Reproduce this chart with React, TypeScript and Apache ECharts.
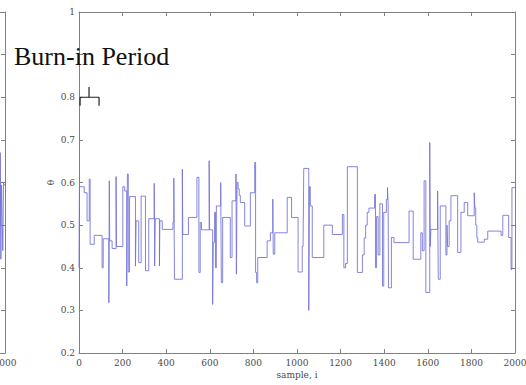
import React, { useEffect, useRef } from "react";
import * as echarts from "echarts";

// MCMC trace: sample index where the chain moves, and the value it takes
const sampleIdx = [
  0, 2, 24, 37, 47, 51, 70, 106, 111, 137, 139, 141, 152, 170, 172, 201, 210, 219, 222, 226,
  232, 259, 262, 274, 285, 305, 320, 345, 347, 350, 369, 371, 382, 431, 435, 438, 474, 476,
  502, 541, 550, 556, 562, 597, 599, 613, 616, 622, 626, 630, 650, 653, 659, 694, 702, 720,
  722, 725, 730, 735, 740, 760, 786, 806, 810, 815, 820, 863, 878, 889, 891, 898, 955, 975,
  1005, 1024, 1028, 1031, 1054, 1057, 1061, 1070, 1123, 1162, 1208, 1215, 1223, 1231, 1277,
  1300, 1308, 1315, 1322, 1330, 1356, 1360, 1365, 1372, 1380, 1392, 1398, 1410, 1415, 1418,
  1420, 1433, 1445, 1514, 1533, 1568, 1575, 1583, 1591, 1609, 1611, 1614, 1645, 1648, 1657,
  1683, 1688, 1691, 1698, 1706, 1737, 1752, 1767, 1783, 1813, 1816, 1820, 1825, 1829, 1859,
  1875, 1936, 1944, 1971, 1982, 1986, 2000,
];
const thetaVals = [
  0.4, 0.59, 0.576, 0.51, 0.608, 0.455, 0.476, 0.4, 0.468, 0.318, 0.604, 0.463, 0.445, 0.614, 0.45, 0.59, 0.58, 0.357, 0.62, 0.39,
  0.567, 0.404, 0.51, 0.412, 0.568, 0.393, 0.515, 0.598, 0.404, 0.515, 0.404, 0.51, 0.49, 0.507, 0.61, 0.373, 0.631, 0.478,
  0.518, 0.612, 0.389, 0.506, 0.489, 0.651, 0.489, 0.314, 0.46, 0.53, 0.4, 0.545, 0.6, 0.365, 0.518, 0.424, 0.557, 0.62,
  0.385, 0.6, 0.585, 0.57, 0.553, 0.498, 0.576, 0.647, 0.389, 0.365, 0.424, 0.463, 0.482, 0.561, 0.432, 0.482, 0.565, 0.518,
  0.39, 0.45, 0.46, 0.633, 0.3, 0.59, 0.545, 0.424, 0.5, 0.478, 0.525, 0.4, 0.41, 0.637, 0.389,
  0.43, 0.47, 0.5, 0.53, 0.54, 0.572, 0.4, 0.52, 0.43, 0.55, 0.357, 0.53, 0.56, 0.588, 0.55,
  0.353, 0.471, 0.459, 0.533, 0.42, 0.482, 0.44, 0.604, 0.342, 0.694, 0.45, 0.49, 0.58, 0.373, 0.545,
  0.43, 0.5, 0.45, 0.51, 0.569, 0.436, 0.53, 0.553, 0.522, 0.576, 0.54, 0.5, 0.47, 0.46, 0.467,
  0.486, 0.476, 0.523, 0.471, 0.396, 0.588, 0.588,
];

// Tail of the neighbouring (cropped) trace plot on the left
const leftSamples = [1970, 1978, 1981, 1984, 1987, 1990, 1993, 1996, 2000];
const leftVals = [0.5, 0.67, 0.42, 0.594, 0.505, 0.44, 0.6, 0.594, 0.594];

// Burn-in bracket (sample, theta)
const bracketX = [5, 5, 92, 92];
const bracketY = [0.78, 0.8, 0.8, 0.78];
const bracketTickX = [46, 46];
const bracketTickY = [0.8, 0.824];

const annotation = "Burn-in Period";
const xName = "sample, i";
const yName = "θ";

const labelFont = { fontFamily: "DejaVu Serif", fontSize: 9, color: "#4a4a4a" };
const axisColor = "#808080";

export default function App() {
  const ref = useRef<HTMLDivElement>(null);
  useEffect(() => {
    if (!ref.current) return;
    const chart = echarts.init(ref.current, undefined, { renderer: "svg" });
    const tick = { show: true, inside: true, length: 4, lineStyle: { color: axisColor } };
    const line = { show: true, onZero: false, lineStyle: { color: axisColor, width: 1 } };
    const fmtY = (v: number) => (Math.abs(v - 1) < 1e-9 ? "1" : Math.abs(v - 0.9) < 1e-9 ? "" : v.toFixed(1));
    const fmtX = (v: number) => String(v);
    chart.setOption({
      animation: false,
      backgroundColor: "#ffffff",
      grid: [
        { left: 79, right: 11, top: 12, bottom: 32, containLabel: false, outerBoundsMode: "none" },
        { left: -431, width: 436, top: 12, bottom: 32, containLabel: false, outerBoundsMode: "none" },
      ],
      xAxis: [
        {
          type: "value", gridIndex: 0, position: "bottom", min: 0, max: 2000, interval: 200,
          axisLine: line, axisTick: tick, splitLine: { show: false },
          axisLabel: { ...labelFont, margin: 5, formatter: fmtX },
          name: xName, nameLocation: "middle", nameGap: 17, nameMoveOverlap: false,
          nameTextStyle: { ...labelFont },
        },
        {
          type: "value", gridIndex: 0, position: "top", min: 0, max: 2000, interval: 200,
          axisLine: line, axisTick: tick, splitLine: { show: false }, axisLabel: { show: false },
        },
        {
          type: "value", gridIndex: 1, position: "bottom", min: 0, max: 2000, interval: 200,
          axisLine: line, axisTick: tick, splitLine: { show: false },
          axisLabel: { ...labelFont, margin: 5, formatter: (v: number) => (v === 2000 ? "2000" : "") },
        },
        {
          type: "value", gridIndex: 1, position: "top", min: 0, max: 2000, interval: 200,
          axisLine: line, axisTick: tick, splitLine: { show: false }, axisLabel: { show: false },
        },
      ],
      yAxis: [
        {
          type: "value", gridIndex: 0, position: "left", min: 0.2, max: 1, interval: 0.1,
          axisLine: line, axisTick: tick, splitLine: { show: false },
          axisLabel: { ...labelFont, margin: 4, formatter: fmtY },
          name: yName, nameLocation: "middle", nameGap: 24, nameRotate: 90, nameMoveOverlap: false,
          nameTextStyle: { ...labelFont },
        },
        {
          type: "value", gridIndex: 0, position: "right", min: 0.2, max: 1, interval: 0.1,
          axisLine: line, axisTick: tick, splitLine: { show: false }, axisLabel: { show: false },
        },
        {
          type: "value", gridIndex: 1, position: "left", min: 0.2, max: 1, interval: 0.1,
          axisLine: { show: false }, axisTick: { show: false }, splitLine: { show: false }, axisLabel: { show: false },
        },
        {
          type: "value", gridIndex: 1, position: "right", min: 0.2, max: 1, interval: 0.1,
          axisLine: line, axisTick: tick, splitLine: { show: false }, axisLabel: { show: false },
        },
      ],
      series: [
        {
          type: "line", xAxisIndex: 0, yAxisIndex: 0, step: "end", symbol: "none",
          data: sampleIdx.map((s, i) => [s, thetaVals[i]]),
          lineStyle: { color: "#7070d6", width: 1, opacity: 0.85 },
        },
        {
          type: "line", xAxisIndex: 2, yAxisIndex: 2, step: "end", symbol: "none",
          data: leftSamples.map((s, i) => [s, leftVals[i]]),
          lineStyle: { color: "#7070d6", width: 1, opacity: 0.85 },
        },
        {
          type: "line", xAxisIndex: 0, yAxisIndex: 0, symbol: "none",
          data: bracketX.map((s, i) => [s, bracketY[i]]),
          lineStyle: { color: "#222", width: 1.2 },
        },
        {
          type: "line", xAxisIndex: 0, yAxisIndex: 0, symbol: "none",
          data: bracketTickX.map((s, i) => [s, bracketTickY[i]]),
          lineStyle: { color: "#222", width: 1.2 },
        },
      ],
      graphic: [
        {
          type: "text", left: 14, top: 43, z: 100,
          style: { text: annotation, font: "26px 'Liberation Serif'", fill: "#111" },
        },
      ],
    });
    return () => chart.dispose();
  }, []);
  return <div ref={ref} style={{ width: 526, height: 385, position: "absolute", left: 0, top: 0 }} />;
}
